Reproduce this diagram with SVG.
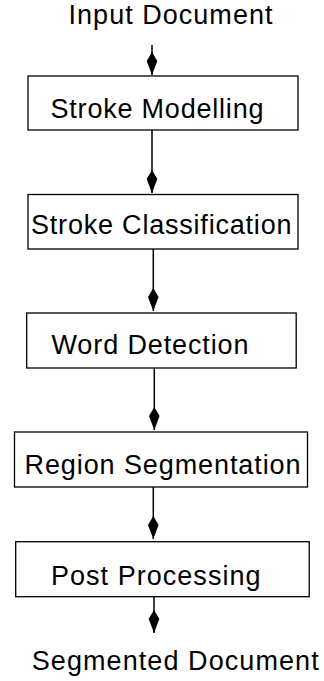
<svg xmlns="http://www.w3.org/2000/svg" width="324" height="681" viewBox="0 0 324 681">
<style>
.box{fill:#fff;stroke:#000;stroke-width:1.3}
.lbl{font-family:"Liberation Sans",Arial,sans-serif;font-size:27px;fill:#000}
.conn{stroke:#000;stroke-width:1.5;fill:none;marker-end:url(#dia)}
</style>
<defs>
<marker id="dia" markerUnits="userSpaceOnUse" markerWidth="30" markerHeight="14" refX="0" refY="0" viewBox="-25 -7 30 14" orient="auto" overflow="visible">
<path d="M0,0 L-14,-5.3 L-23,0 L-14,5.3 Z" fill="#000"/>
</marker>
</defs>
<rect width="324" height="681" fill="#fff"/>
<g id="connectors">
<line class="conn" x1="152" y1="45" x2="152" y2="75"/>
<line class="conn" x1="152" y1="130" x2="152" y2="193"/>
<line class="conn" x1="153.3" y1="249" x2="153.3" y2="311"/>
<line class="conn" x1="154.3" y1="368" x2="154.3" y2="430"/>
<line class="conn" x1="153.3" y1="487" x2="153.3" y2="539"/>
<line class="conn" x1="154" y1="597" x2="154" y2="633"/>
</g>
<g id="input"><text class="lbl" x="68.5" y="24" textLength="204" lengthAdjust="spacing">Input Document</text></g>
<g id="stroke-modelling"><rect class="box" x="28" y="76" width="270" height="54"/><text class="lbl" x="50.5" y="118" textLength="213" lengthAdjust="spacing">Stroke Modelling</text></g>
<g id="stroke-classification"><rect class="box" x="28" y="194.5" width="270" height="54.5"/><text class="lbl" x="31" y="234" textLength="260.5" lengthAdjust="spacing">Stroke Classification</text></g>
<g id="word-detection"><rect class="box" x="26.7" y="313" width="269.5" height="55"/><text class="lbl" x="51.5" y="354" textLength="197" lengthAdjust="spacing">Word Detection</text></g>
<g id="region-segmentation"><rect class="box" x="14.5" y="432" width="293" height="55"/><text class="lbl" x="24.5" y="474" textLength="276" lengthAdjust="spacing">Region Segmentation</text></g>
<g id="post-processing"><rect class="box" x="15.7" y="541.7" width="293.5" height="55"/><text class="lbl" x="51" y="585" textLength="209.5" lengthAdjust="spacing">Post Processing</text></g>
<g id="output"><text class="lbl" x="31.7" y="670" textLength="287" lengthAdjust="spacing">Segmented Document</text></g>
</svg>
